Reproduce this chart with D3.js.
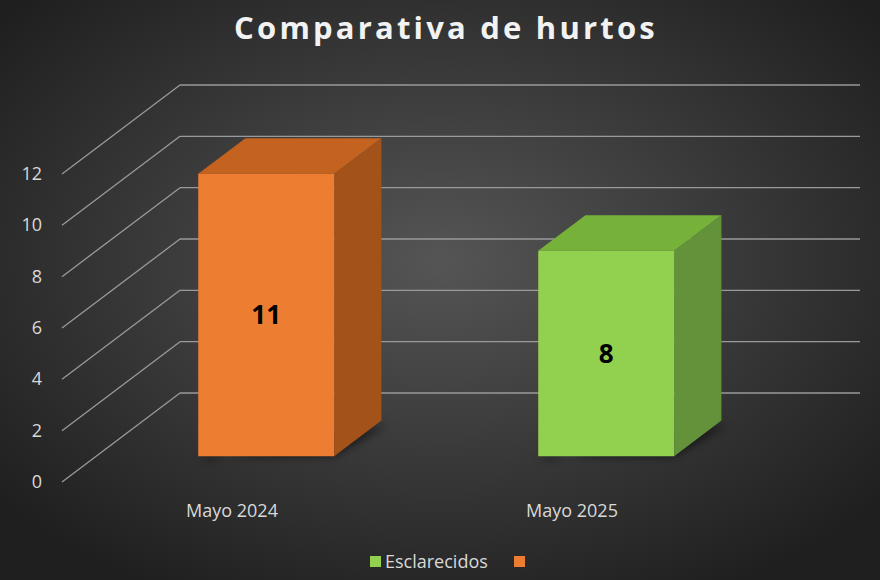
<!DOCTYPE html>
<html><head><meta charset="utf-8">
<script src="https://cdn.jsdelivr.net/npm/d3@7"></script>
<style>body{margin:0;background:#2a2a2a}</style>
</head><body><div id="chart"></div>
<script>
var categories = ["Mayo 2024", "Mayo 2025"];
var values = [11, 8];
var fronts = ["#ED7D31", "#92D050"];
var tops = ["#C4621F", "#76B23A"];
var sides = ["#A3521A", "#63923A"];
var ticks = [0, 2, 4, 6, 8, 10, 12];

var width = 880, height = 580;
var DX = 118, DY = -89; // full depth offset

var svg = d3.select("#chart").append("svg").attr("width", width).attr("height", height);
var defs = svg.append("defs");
var grad = defs.append("radialGradient").attr("id", "bg").attr("cx", "50%").attr("cy", "45%").attr("r", "65%");
grad.append("stop").attr("offset", "0%").attr("stop-color", "#555");
grad.append("stop").attr("offset", "100%").attr("stop-color", "#1f1f1f");
var blur = defs.append("filter").attr("id", "sh").attr("x", "-20%").attr("y", "-50%").attr("width", "140%").attr("height", "200%");
blur.append("feGaussianBlur").attr("stdDeviation", 4);
svg.append("rect").attr("width", width).attr("height", height).attr("fill", "url(#bg)");

var y = d3.scaleLinear().domain([0, 12]).range([482, 174]);
var x = d3.scaleBand().domain(categories).range([62, 742]).paddingInner(0).paddingOuter(0);

function p(px, py, f) { return [px + DX * f, py + DY * f]; }

// gridlines
var g = svg.append("g");
ticks.forEach(function(t) {
  var a = [62, y(t)], b = p(62, y(t), 1);
  g.append("line").attr("x1", a[0]).attr("y1", a[1]).attr("x2", b[0]).attr("y2", b[1])
    .attr("stroke", "#9a9a9a").attr("stroke-width", 1.3);
  g.append("line").attr("x1", b[0]).attr("y1", b[1]).attr("x2", 860).attr("y2", b[1])
    .attr("stroke", "#9a9a9a").attr("stroke-width", 1.3);
  g.append("text").attr("x", 42).attr("y", y(t) + 6).attr("text-anchor", "end")
    .attr("fill", "#d9d9d9").attr("font-family", "Open Sans, sans-serif").attr("font-size", 18).text(t);
});

// bars
var f0 = 0.29, f1 = 0.69, bw = x.bandwidth() * 0.4;
categories.forEach(function(c, i) {
  var cx = x(c) + x.bandwidth() / 2;
  var xl = cx - bw / 2, xr = cx + bw / 2;
  var yb = y(0), yt = y(values[i]);
  var A = p(xl, yb, f0), B = p(xr, yb, f0), C = p(xr, yt, f0), D = p(xl, yt, f0);
  var Bb = p(xr, yb, f1), Cb = p(xr, yt, f1), Db = p(xl, yt, f1);
  var line = d3.line();
  svg.append("path").attr("d", line([A, B, [Bb[0] + 6, Bb[1] + 4], [A[0] + 10, A[1] + 4]]) + "Z")
    .attr("fill", "#000").attr("opacity", 0.55).attr("filter", "url(#sh)");
  svg.append("path").attr("d", line([B, Bb, Cb, C]) + "Z").attr("fill", sides[i]);
  svg.append("path").attr("d", line([D, C, Cb, Db]) + "Z").attr("fill", tops[i]);
  svg.append("path").attr("d", line([A, B, C, D]) + "Z").attr("fill", fronts[i]);
  svg.append("text").attr("x", (xl + xr) / 2 + DX * f0).attr("y", (yb + yt) / 2 + DY * f0 + 9)
    .attr("text-anchor", "middle").attr("font-family", "Open Sans, sans-serif").attr("font-weight", "bold")
    .attr("font-size", 26).attr("fill", "#000").text(values[i]);
  svg.append("text").attr("x", cx).attr("y", 517).attr("text-anchor", "middle")
    .attr("fill", "#d9d9d9").attr("font-family", "Open Sans, sans-serif").attr("font-size", 18).text(c);
});

// title
svg.append("text").attr("x", 446).attr("y", 39).attr("text-anchor", "middle").attr("fill", "#f2f2f2")
  .attr("font-family", "Open Sans, sans-serif").attr("font-weight", "bold").attr("font-size", 31)
  .attr("letter-spacing", 3.2).text("Comparativa de hurtos");

// legend
var lg = svg.append("g");
lg.append("rect").attr("x", 370).attr("y", 556).attr("width", 11).attr("height", 11).attr("fill", fronts[1]);
lg.append("text").attr("x", 385).attr("y", 568).attr("fill", "#d9d9d9").attr("font-family", "Open Sans, sans-serif")
  .attr("font-size", 18).text("Esclarecidos");
lg.append("rect").attr("x", 514).attr("y", 556).attr("width", 11).attr("height", 11).attr("fill", fronts[0]);
</script></body></html>
